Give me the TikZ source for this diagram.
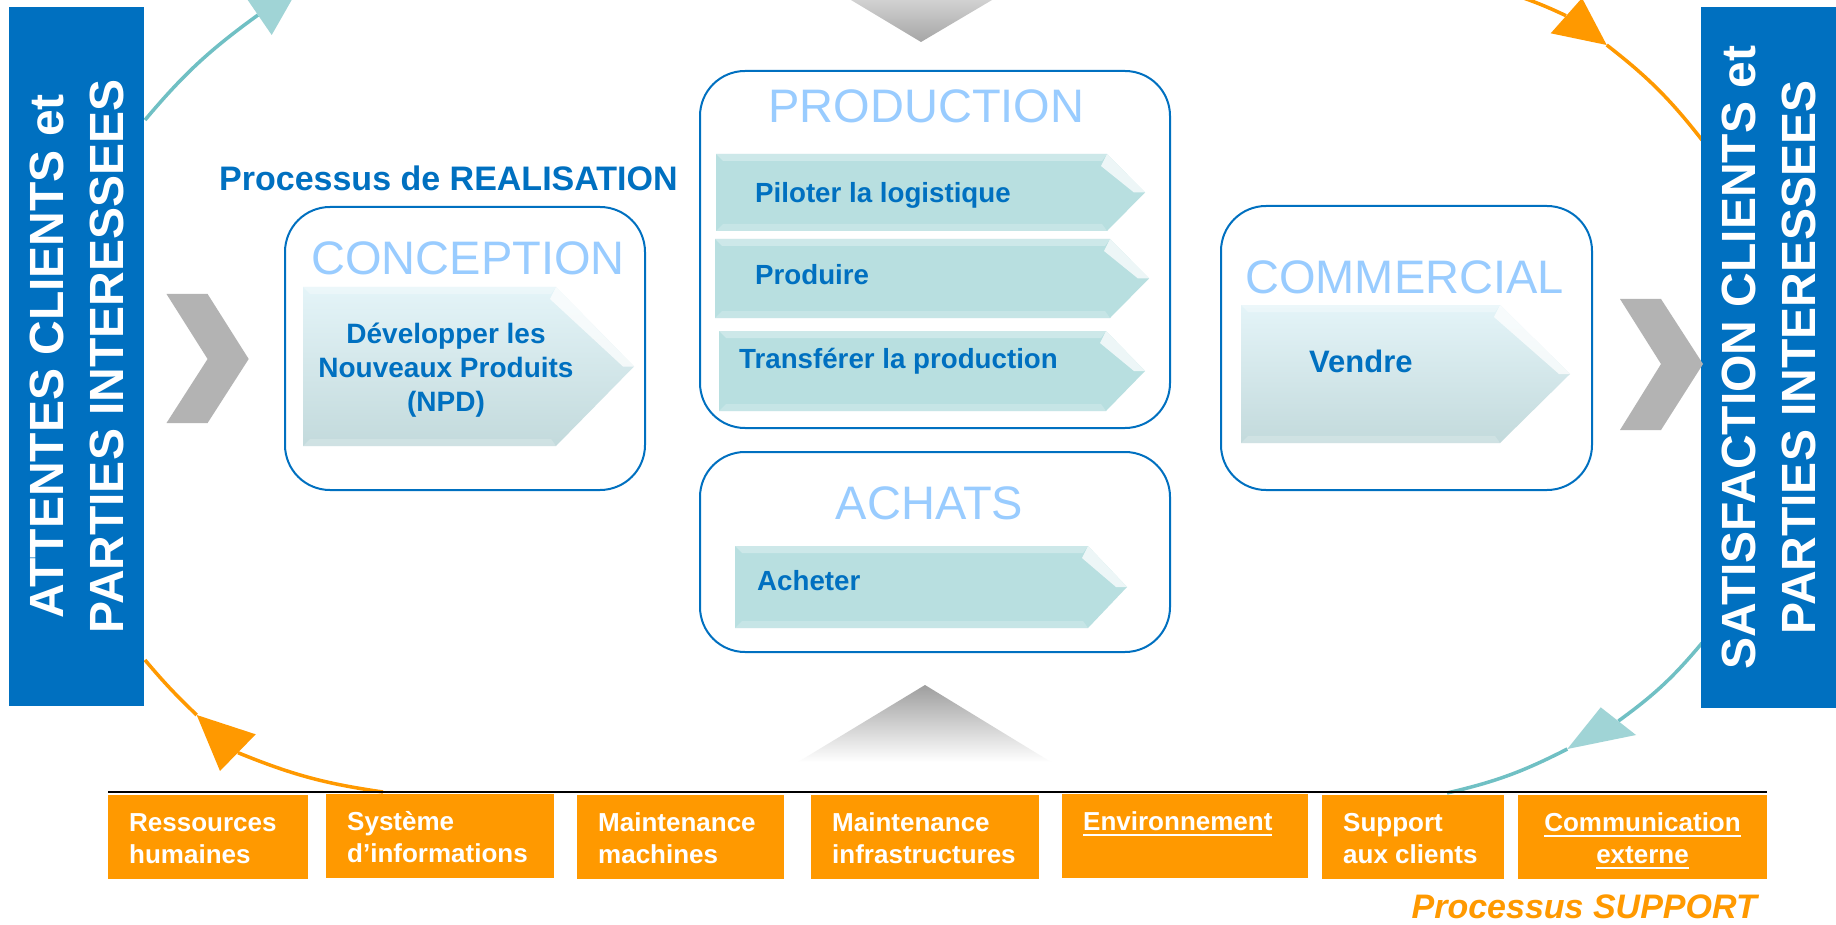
\documentclass[tikz,border=0pt]{standalone}
\usepackage{fontspec}
\setmainfont{Liberation Sans}
\definecolor{dblue}{RGB}{0,112,192}
\definecolor{titleblue}{RGB}{153,204,255}
\definecolor{orng}{RGB}{255,153,0}
\definecolor{taskfill}{RGB}{184,223,224}
\definecolor{npdtop}{RGB}{228,244,248}
\definecolor{npdbot}{RGB}{195,218,220}
\definecolor{tealline}{RGB}{112,192,196}
\definecolor{tealhead}{RGB}{160,212,214}
\definecolor{chevgray}{RGB}{179,179,179}
\newsavebox\ulbox
\newcommand\myul[1]{\sbox\ulbox{#1}\rlap{\rule[-6pt]{\wd\ulbox}{2pt}}\usebox\ulbox}
\newcommand\taskArrow[6]{%
  \path[#6] (#1,-#2) -- (#3,-#2) -- (#4,{-(#2+#5)/2}) -- (#3,-#5) -- (#1,-#5) -- cycle;
  \fill[white,opacity=0.3] (#1,-#2) -- (#3,-#2) -- ({#3-5},{-#2-7}) -- ({#1+7},{-#2-7}) -- cycle;
  \fill[white,opacity=0.2] (#1,-#5) -- (#3,-#5) -- ({#3-5},{-#5+7}) -- ({#1+7},{-#5+7}) -- cycle;
  \fill[white,opacity=0.75] (#3,-#2) -- (#4,{-(#2+#5)/2}) -- ({#4-11},{-(#2+#5)/2}) -- ({#3-6},{-#2-12}) -- cycle;
}
\tikzset{
  barbox/.style={fill=dblue, draw=none, inner sep=0pt},
  bartext/.style={rotate=90, text=white, font=\bfseries\fontsize{48}{60}\selectfont, align=center, inner sep=0pt},
  procbox/.style={draw=dblue, line width=2pt, rounded corners=45pt, fill=white, inner sep=0pt},
  titletext/.style={text=titleblue, font=\fontsize{47}{56}\selectfont, inner sep=0pt, anchor=base},
  task/.style={text=dblue, font=\bfseries\fontsize{27.7}{34}\selectfont, inner sep=0pt, anchor=base west},
  npdtext/.style={text=dblue, font=\bfseries\fontsize{28}{34}\selectfont, inner sep=0pt, align=center},
  suppbox/.style={fill=orng, draw=none, minimum height=84pt, inner sep=0pt},
  supptext/.style={text=white, font=\bfseries\fontsize{26}{32}\selectfont, inner sep=0pt, align=left, anchor=north west},
  chev/.style={fill=chevgray},
  cycT/.style={draw=tealline, line width=3.5pt},
  cycO/.style={draw=orng, line width=3.5pt},
}
\begin{document}
\begin{tikzpicture}[x=1pt,y=1pt]
\useasboundingbox (0,0) rectangle (1836,-925);
\fill[white] (0,0) rectangle (1836,-925);

% ---- cycle arcs ----
\coordinate (tl1) at (145,-120); \coordinate (tl2) at (258,-15);
\draw[cycT] (tl1) to[bend left=7] (tl2);
\fill[tealhead] (271.7,-35) -- (299.2,13.2) -- (244.3,5) -- cycle;

\coordinate (tr0) at (1505,8); \coordinate (tr1) at (1566,-15.7);
\coordinate (tr2) at (1606.7,-45); \coordinate (tr3) at (1702,-140);
\draw[cycO] (tr0) to[bend left=4] (tr1);
\fill[orng] (1550.7,-33.3) -- (1606.7,-45) -- (1582,2) -- cycle;
\draw[cycO] (tr2) to[bend left=7] (tr3);

\coordinate (br0) at (1702,-643); \coordinate (br1) at (1618.4,-721);
\coordinate (br2) at (1567.3,-749); \coordinate (br3) at (1447,-793);
\draw[cycT] (br0) to[bend left=7] (br1);
\fill[tealhead] (1600.7,-707.3) -- (1567.3,-749) -- (1636,-735) -- cycle;
\draw[cycT] (br2) to[bend left=7] (br3);

\coordinate (bl0) at (383,-792); \coordinate (bl1) at (238,-752.7);
\coordinate (bl2) at (196.7,-715); \coordinate (bl3) at (145,-660);
\draw[cycO] (bl0) to[bend left=7] (bl1);
\fill[orng] (255.7,-734.3) -- (196.7,-715) -- (220,-771) -- cycle;
\draw[cycO] (bl2) to[bend left=3] (bl3);

% ---- side bars ----
\node[barbox, minimum width=135pt, minimum height=699pt] (lbar) at (76.5,-356.5) {};
\node[bartext] (ltext) at (lbar.center) {ATTENTES CLIENTS et\\PARTIES INTERESSEES};
\node[barbox, minimum width=135pt, minimum height=701pt] (rbar) at (1768.5,-357.5) {};
\node[bartext] (rtext) at (rbar.center) {SATISFACTION CLIENTS et\\PARTIES INTERESSEES};

% ---- chevrons and triangles ----
\fill[chev] (166.5,-294) -- (207.6,-294) -- (248.7,-359) -- (207.6,-423) -- (166.5,-423) -- (207.6,-359) -- cycle;
\fill[chev] (1620,-299) -- (1661,-299) -- (1703,-364) -- (1661,-430) -- (1620,-430) -- (1661,-364) -- cycle;
\shade[top color=black!18, bottom color=black!35] (851,0) -- (992,0) -- (921,-42) -- cycle;
\shade[top color=black!38, bottom color=white] (925,-685) -- (1051,-762) -- (798,-762) -- cycle;

% ---- realisation ----
\node[anchor=base west, inner sep=0pt, text=dblue, font=\bfseries\fontsize{34}{40}\selectfont] (realis) at (219,-191) {Processus de REALISATION};

\node[procbox, minimum width=360pt, minimum height=283pt] (concbox) at (465,-348.5) {};
\node[titletext] (conctitle) at (468,-275) {CONCEPTION};
\taskArrow{303}{287}{556}{634}{446}{top color=npdtop, bottom color=npdbot}
\node[npdtext, anchor=north] (npd) at (446,-319.2) {\strut Développer les\\Nouveaux Produits\\(NPD)};

\node[procbox, minimum width=470pt, minimum height=357pt] (prodbox) at (935,-249.5) {};
\node[titletext] (prodtitle) at (926.5,-123) {PRODUCTION};
\taskArrow{716}{154}{1107}{1145}{231}{fill=taskfill}
\node[task] (pilot) at (755,-203) {Piloter la logistique};
\taskArrow{715}{239}{1110}{1149}{318}{fill=taskfill}
\node[task] (produire) at (755,-285) {Produire};
\taskArrow{719}{331}{1106}{1145}{411}{fill=taskfill}
\node[task] (transf) at (739,-368) {Transférer la production};

\node[procbox, minimum width=470pt, minimum height=200pt] (achbox) at (935,-552) {};
\node[titletext] (achtitle) at (929.5,-519) {ACHATS};
\taskArrow{735}{546}{1088}{1127}{628}{fill=taskfill}
\node[task] (acheter) at (757,-590) {Acheter};

\node[procbox, minimum width=371pt, minimum height=284pt] (commbox) at (1406.5,-348) {};
\node[titletext] (commtitle) at (1404.5,-294) {COMMERCIAL};
\taskArrow{1241}{305}{1500}{1570}{443}{top color=npdtop, bottom color=npdbot}
\node[task, font=\bfseries\fontsize{31}{36}\selectfont] (vendre) at (1309,-372) {Vendre};

% ---- support ----
\coordinate (sl) at (108,-792); \coordinate (sr) at (1767,-792);
\draw[black, line width=2.5pt] (sl) -- (sr);

\node[suppbox, minimum width=200pt] (rh) at (208,-837) {};
\node[supptext] (rhT) at (129,-808.6) {\strut Ressources\\humaines};
\node[suppbox, minimum width=228pt] (si) at (440,-836) {};
\node[supptext] (siT) at (347,-807.6) {\strut Système\\d’informations};
\node[suppbox, minimum width=207pt] (mm) at (680.5,-837) {};
\node[supptext] (mmT) at (598,-808.6) {\strut Maintenance\\machines};
\node[suppbox, minimum width=228pt] (mi) at (925,-837) {};
\node[supptext] (miT) at (832,-808.6) {\strut Maintenance\\infrastructures};
\node[suppbox, minimum width=246pt] (env) at (1185,-836) {};
\node[supptext] (envT) at (1083,-807.6) {\strut\myul{Environnement}};
\node[suppbox, minimum width=182pt] (sc) at (1413,-837) {};
\node[supptext] (scT) at (1343,-808.6) {\strut Support\\aux clients};
\node[suppbox, minimum width=249pt] (ce) at (1642.5,-837) {};
\node[supptext, align=center, anchor=north] (ceT) at (1642.5,-808.6) {\strut\myul{Communication}\\\myul{externe}};

\node[anchor=base east, inner sep=0pt, text=orng, font=\bfseries\itshape\fontsize{34}{40}\selectfont] (psupp) at (1757,-918) {Processus SUPPORT};
\end{tikzpicture}
\end{document}
